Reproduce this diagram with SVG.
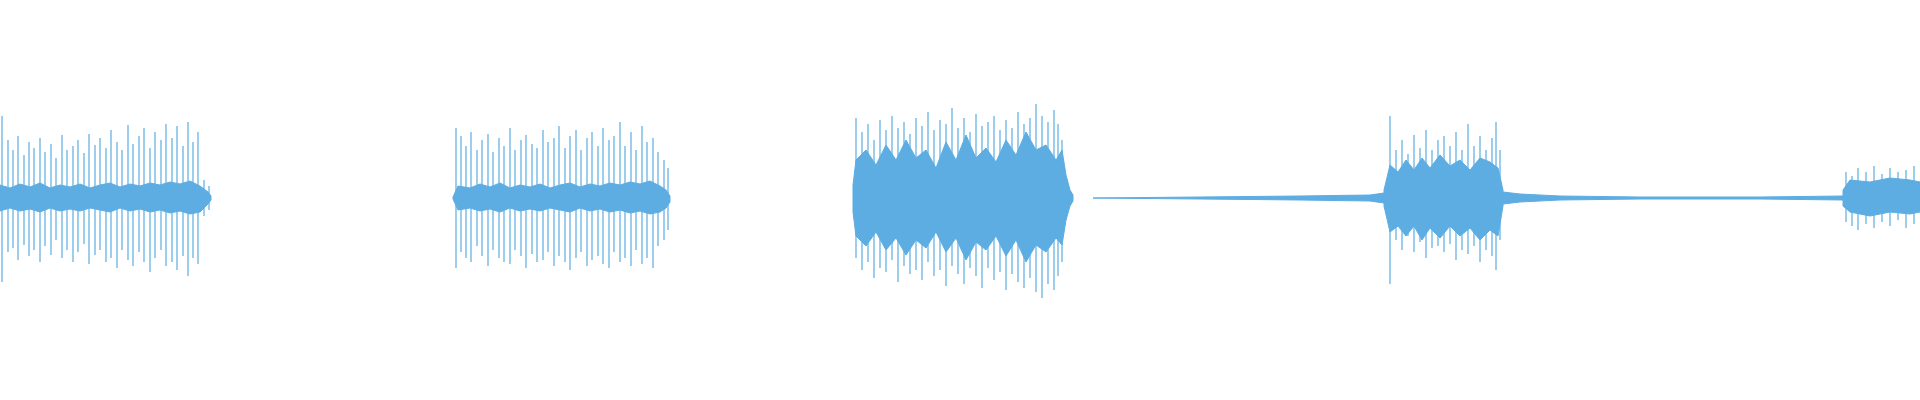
<svg xmlns="http://www.w3.org/2000/svg" width="1920" height="400" viewBox="0 0 1920 400">
<style>
.env{fill:#5dade2;stroke:#5dade2;stroke-width:1}
.sp{fill:none;stroke:#5dade2;stroke-width:1.2}
</style>
<rect width="1920" height="400" fill="#ffffff"/>
<g id="block1">
<polygon class="env" points="0,185 10,188 20,184 30,187 40,183 50,188 60,185 70,187 80,184 90,188 100,185 110,183 120,187 130,184 140,186 150,183 160,185 170,182 180,184 190,181 200,186 208,192 211,196 211,200 208,204 200,212 190,214 180,211 170,213 160,210 150,212 140,209 130,211 120,208 110,212 100,210 90,208 80,211 70,209 60,211 50,208 40,212 30,209 20,211 10,208 0,211"/>
<path class="sp" d="M2 116V282M8 140V252M13 150V248M18 136V260M24 155V245M29 142V256M34 148V250M40 138V262M45 152V246M51 144V255M56 158V240M62 135V258M67 150V250M73 146V262M78 140V252M84 153V244M89 134V264M95 145V255M100 138V250M106 148V262M111 130V258M117 142V268M122 150V250M128 125V260M133 144V266M139 136V252M144 128V262M150 148V272M155 132V258M161 140V250M166 124V266M172 138V262M177 126V270M183 146V256M188 122V276M193 142V258M198 132V264M204 180V216M209 186V210"/>
</g>
<g id="block2">
<polygon class="env" points="453,197 458,186 470,188 480,184 490,187 500,183 510,188 520,185 530,187 540,184 550,188 560,185 570,183 580,187 590,184 600,186 610,183 620,185 630,182 640,184 650,181 660,186 666,190 670,196 670,202 666,208 660,212 650,214 640,211 630,213 620,210 610,212 600,209 590,211 580,208 570,212 560,210 550,208 540,211 530,209 520,211 510,208 500,212 490,209 480,211 470,208 458,210 453,199"/>
<path class="sp" d="M456 128V268M461 136V252M466 146V258M471 132V262M477 150V246M482 140V256M488 134V266M493 152V250M499 138V258M504 146V262M510 128V264M515 150V250M521 140V256M526 135V268M532 144V254M537 148V262M543 130V260M548 142V252M554 138V266M559 126V256M565 148V262M570 136V270M576 130V258M581 150V252M587 138V266M592 132V260M598 146V256M603 128V264M609 140V268M614 136V252M620 122V262M625 146V258M631 132V266M636 150V250M642 126V264M647 142V258M653 138V268M658 152V246M664 160V240M668 168V230"/>
</g>
<g id="block3">
<polygon class="env" points="853,185 856,160 866,150 876,165 886,145 896,160 906,140 916,158 926,150 936,168 946,142 956,160 966,135 976,158 986,148 996,162 1006,140 1016,155 1026,132 1036,150 1046,145 1056,160 1062,150 1066,175 1070,190 1073,195 1073,201 1070,206 1066,220 1062,245 1056,238 1046,252 1036,245 1026,262 1016,240 1006,256 996,236 986,250 976,242 966,260 956,238 946,252 936,232 926,248 916,240 906,255 896,238 886,250 876,232 866,246 856,236 853,212"/>
<path class="sp" d="M856 118V258M862 132V270M868 124V262M874 140V278M880 120V268M886 130V272M892 116V260M898 128V282M904 122V266M910 134V274M916 118V270M922 126V280M928 112V262M934 130V276M940 120V270M946 124V286M952 108V266M958 128V274M964 118V284M970 132V268M976 114V276M982 126V288M988 122V268M994 116V280M1000 130V272M1006 120V290M1012 128V274M1018 112V282M1024 124V288M1030 118V278M1036 104V292M1042 116V298M1048 122V284M1054 110V290M1058 124V276M1062 140V262M1066 178V220M1070 192V204"/>
</g>
<g id="block4">
<polygon class="env" points="1093,198 1200,197 1300,196 1370,195 1384,193 1384,203 1370,201 1300,200 1200,199"/>
</g>
<g id="block5">
<polygon class="env" points="1384,190 1390,165 1398,172 1406,160 1414,170 1422,158 1430,168 1440,155 1450,166 1460,160 1470,170 1480,158 1490,162 1498,168 1503,190 1503,206 1498,236 1490,230 1480,240 1470,228 1460,236 1450,226 1440,238 1430,228 1422,240 1414,226 1406,236 1398,226 1390,232 1384,206"/>
<path class="sp" d="M1390 116V284M1396 150V240M1402 140V250M1408 154V236M1414 135V252M1420 148V242M1426 130V258M1432 150V248M1438 140V246M1444 136V252M1450 146V244M1456 132V260M1462 150V250M1468 124V254M1474 146V246M1480 136V262M1486 150V250M1492 138V256M1496 122V270M1500 150V240"/>
</g>
<g id="block6">
<polygon class="env" points="1503,192 1520,194 1560,196 1640,197 1760,197 1843,196 1843,200 1760,199 1640,199 1560,200 1520,202 1503,204"/>
</g>
<g id="block7">
<polygon class="env" points="1843,190 1850,180 1870,182 1890,178 1910,180 1920,182 1920,212 1910,214 1890,212 1870,216 1850,212 1843,206"/>
<path class="sp" d="M1846 172V222M1852 176V226M1858 168V230M1866 172V224M1874 166V228M1882 174V222M1890 168V226M1898 172V220M1906 170V228M1914 166V224"/>
</g>
</svg>
